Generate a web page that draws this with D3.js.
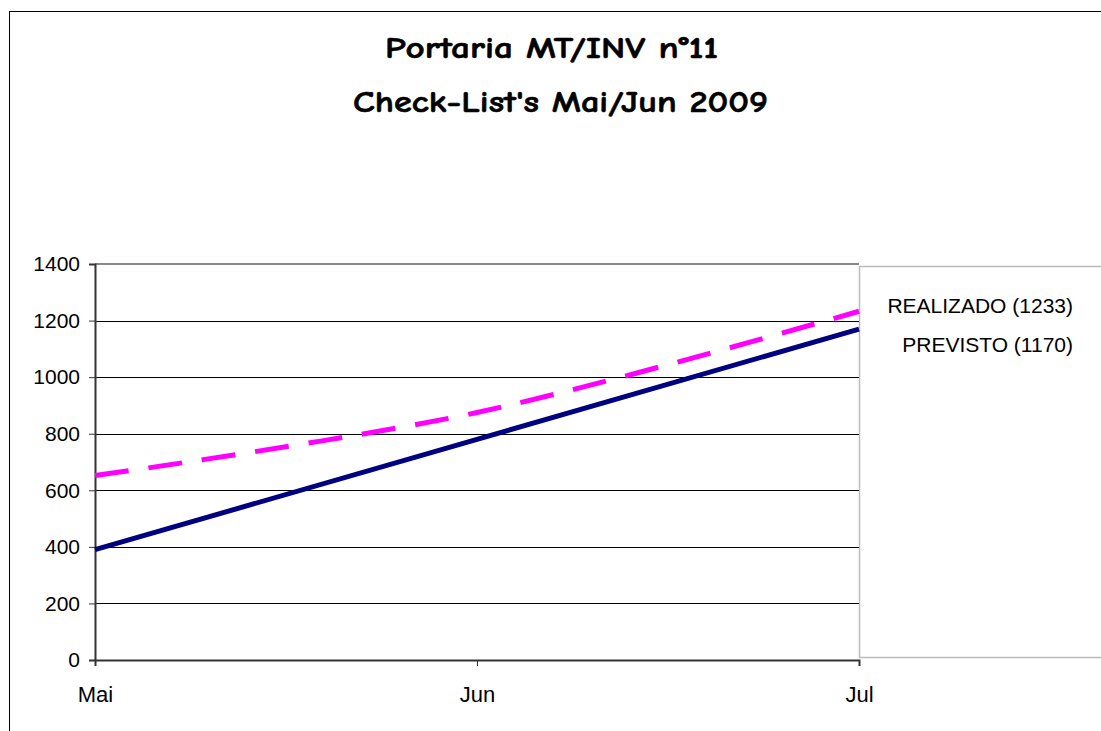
<!DOCTYPE html>
<html><head><meta charset="utf-8">
<script src="https://cdn.jsdelivr.net/npm/d3@7"></script>
<style>body{margin:0;background:#fff}</style>
</head><body>
<svg id="c" width="1101" height="731"></svg>
<script>
const categories = ["Mai", "Jun", "Jul"];
const realizado = [652, 875, 1233];
const previsto = [390, 780, 1170];
const yTicks = [0, 200, 400, 600, 800, 1000, 1200, 1400];
const legendLabels = ["REALIZADO (1233)", "PREVISTO (1170)"];
const titleLines = ["Portaria MT/INV n°11", "Check-List's Mai/Jun 2009"];

const svg = d3.select("#c");
const L = 95, R = 859, T = 264, B = 660;
const x = d3.scalePoint().domain(categories).range([L, R]);
const y = d3.scaleLinear().domain([0, 1400]).range([B, T]);
const FONT = "Arial, 'Liberation Sans', sans-serif";

// outer border
svg.append("rect").attr("x", 9.5).attr("y", 11.5).attr("width", 1100).attr("height", 730)
  .attr("fill", "none").attr("stroke", "#000").attr("stroke-width", 1);

// title
const titlePos = [{x: 385, y: 58, w: 333}, {x: 353, y: 112, w: 415}];
svg.selectAll("text.title").data(titleLines).join("text")
  .attr("class", "title")
  .attr("x", (d, i) => titlePos[i].x).attr("y", (d, i) => titlePos[i].y)
  .attr("textLength", (d, i) => titlePos[i].w).attr("lengthAdjust", "spacingAndGlyphs")
  .attr("font-family", "'Comic Sans MS', 'Comic Neue', 'DejaVu Sans', sans-serif")
  .attr("font-weight", "bold").attr("font-size", 31).attr("fill", "#000")
  .attr("stroke", "#000").attr("stroke-width", 0.6)
  .text(d => d);

// legend box
svg.append("path").attr("d", `M${R},${T+2.5}H1101M${R+0.5},${T+2}V${B-2.5}M${R},${B-2.5}H1101`)
  .attr("fill", "none").attr("stroke", "#bbb").attr("stroke-width", 1.5);

// gridlines
svg.append("g").selectAll("line").data(yTicks.filter(v => v > 0 && v < 1400)).join("line")
  .attr("x1", L).attr("x2", R).attr("y1", d => Math.round(y(d)) + 0.5).attr("y2", d => Math.round(y(d)) + 0.5)
  .attr("stroke", "#000").attr("stroke-width", 1);
// top border of plot
svg.append("line").attr("x1", L).attr("x2", R).attr("y1", T).attr("y2", T)
  .attr("stroke", "#888").attr("stroke-width", 2);

// y axis
const ya = svg.append("g").attr("transform", `translate(${L},0)`)
  .call(d3.axisLeft(y).tickValues(yTicks).tickFormat(d3.format("d")).tickSize(6).tickPadding(9));
ya.select(".domain").attr("stroke", "#333").attr("stroke-width", 2);
ya.selectAll(".tick line").attr("stroke", "#333");
ya.selectAll("text").attr("font-family", FONT).attr("font-size", 21).attr("fill", "#000");

// x axis
const xa = svg.append("g").attr("transform", `translate(0,${B})`)
  .call(d3.axisBottom(x).tickSize(6).tickPadding(20));
xa.select(".domain").attr("stroke", "#333").attr("stroke-width", 2);
xa.selectAll(".tick line").attr("stroke", "#333");
xa.selectAll("text").attr("font-family", FONT).attr("font-size", 22).attr("fill", "#000");

// lines
const lineSmooth = d3.line().x((d, i) => x(categories[i])).y(d => y(d)).curve(d3.curveCatmullRom.alpha(0.5));
const lineStraight = d3.line().x((d, i) => x(categories[i])).y(d => y(d));
svg.append("path").datum(previsto).attr("d", lineStraight)
  .attr("fill", "none").attr("stroke", "#000080").attr("stroke-width", 5);
svg.append("path").datum(realizado).attr("d", lineSmooth)
  .attr("fill", "none").attr("stroke", "#ff00ff").attr("stroke-width", 5).attr("stroke-dasharray", "34,20");

// legend text
svg.selectAll("text.leg").data(legendLabels).join("text")
  .attr("class", "leg")
  .attr("x", 1073).attr("y", (d, i) => 313 + i * 39)
  .attr("text-anchor", "end")
  .attr("font-family", FONT).attr("font-size", 21).attr("fill", "#000")
  .text(d => d);
</script>
</body></html>
